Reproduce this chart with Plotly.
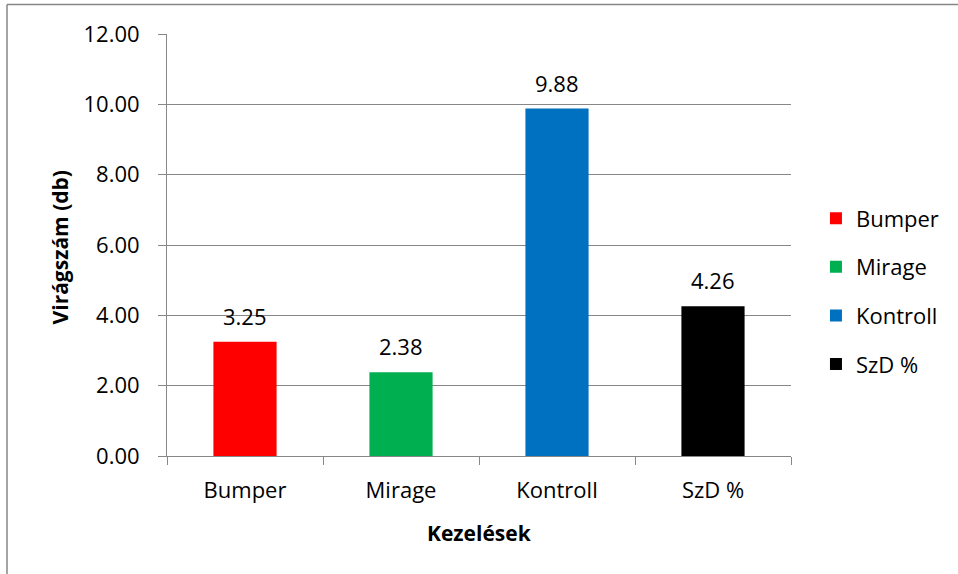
import plotly.graph_objects as go

categories = ["Bumper", "Mirage", "Kontroll", "SzD %"]
values = [3.25, 2.38, 9.88, 4.26]
colors = ["#FF0000", "#00B050", "#0070C0", "#000000"]
y_ticks = [0, 2, 4, 6, 8, 10, 12]
y_title = "Virágszám (db)"
x_title = "Kezelések"

FONT = "Open Sans"
FS = 22
GRID = "#878787"

fig = go.Figure()
for i, (c, v, col) in enumerate(zip(categories, values, colors)):
    fig.add_trace(go.Bar(
        x=[c], y=[v], name=c, marker=dict(color=col, line=dict(width=0)),
        legendgroup=c, showlegend=True,
    ))
    fig.add_annotation(
        x=c, y=v, text=f"{v:.2f}", showarrow=False, yanchor="bottom",
        yshift=9, font=dict(family=FONT, size=FS, color="#000000"),
    )

fig.update_layout(
    width=958, height=574,
    margin=dict(l=167, r=167, t=34, b=118),
    paper_bgcolor="white", plot_bgcolor="white",
    barmode="overlay", bargap=0.595,
    font=dict(family=FONT, size=FS, color="#000000"),
    legend=dict(
        x=1.04, y=0.39, xanchor="left", yanchor="middle",
        font=dict(family=FONT, size=FS, color="#000000"),
        tracegroupgap=17, itemwidth=30, bgcolor="rgba(0,0,0,0)",
    ),
    showlegend=True,
)

fig.update_xaxes(
    categoryorder="array", categoryarray=categories,
    showgrid=False, showline=True, linecolor=GRID, linewidth=1,
    ticks="outside", tickson="boundaries", ticklen=8, tickcolor=GRID,
    tickfont=dict(family=FONT, size=FS, color="#000000"),
    ticklabelstandoff=15,
)
fig.update_yaxes(
    range=[0, 12], tickvals=y_ticks, tickformat=".2f",
    showgrid=True, gridcolor=GRID, gridwidth=1,
    showline=True, linecolor=GRID, linewidth=1,
    ticks="outside", ticklen=8, tickcolor=GRID,
    tickfont=dict(family=FONT, size=FS, color="#000000"),
    ticklabelstandoff=14, zeroline=False,
)

# axis titles
fig.add_annotation(
    xref="paper", yref="paper", x=-0.172, y=0.4935, text=f"<b>{y_title}</b>",
    textangle=-90, showarrow=False, xanchor="center", yanchor="middle",
    font=dict(family=FONT, size=21, color="#000000"),
)
fig.add_annotation(
    xref="paper", yref="paper", x=0.5, y=-0.1825, text=f"<b>{x_title}</b>",
    showarrow=False, xanchor="center", yanchor="middle",
    font=dict(family=FONT, size=21, color="#000000"),
)

# chart border (only top and left edges fall inside the picture)
fig.add_shape(
    type="line", xref="paper", yref="paper",
    x0=-0.2564, x1=1.2676, y0=1.0698, y1=1.0698,
    line=dict(color="#868686", width=1.5), layer="below",
)
fig.add_shape(
    type="line", xref="paper", yref="paper",
    x0=-0.2564, x1=-0.2564, y0=1.0698, y1=-0.2796,
    line=dict(color="#868686", width=1.5), layer="below",
)

fig.write_html("out.html", config={"displayModeBar": False},
               post_script="document.body.style.margin='0';")
